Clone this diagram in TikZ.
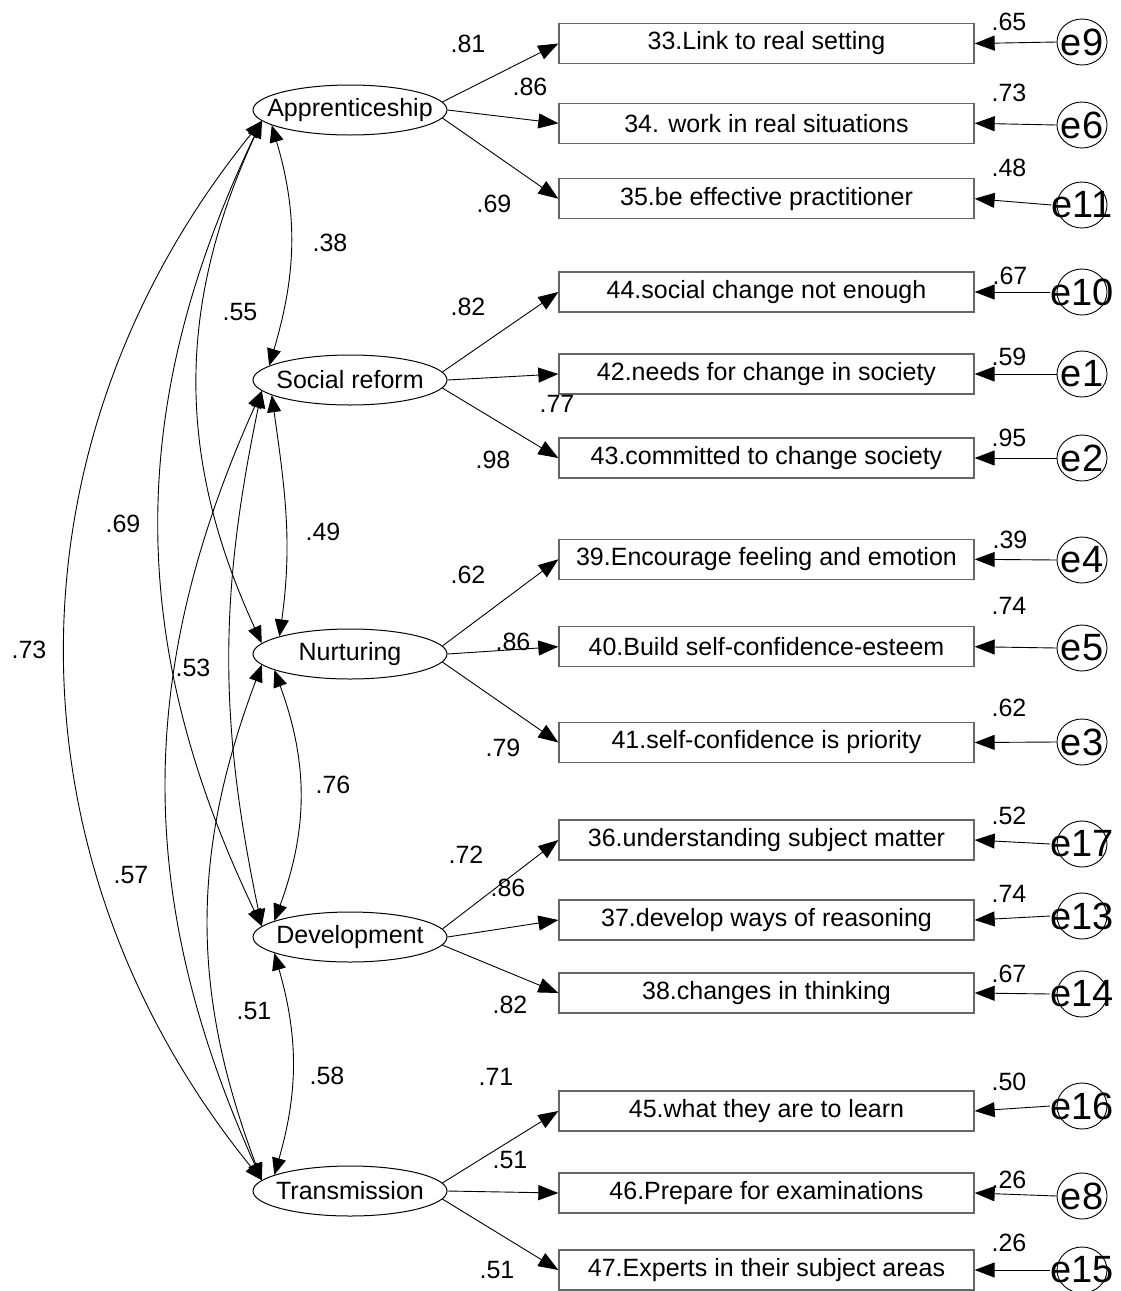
\documentclass[tikz,border=0pt]{standalone}
\usepackage{fontspec}
\setmainfont{Liberation Sans}
\usetikzlibrary{arrows.meta,shapes.geometric,calc}

\begin{document}
\begin{tikzpicture}[x=1pt,y=1pt,
  latent/.style={ellipse,draw,line width=1pt,minimum width=194pt,minimum height=50pt,
    inner sep=0pt,font=\fontsize{25}{30}\selectfont},
  item/.style={rectangle,draw=black!60,line width=1.3pt,minimum width=415pt,
    minimum height=40pt,inner sep=0pt,font=\fontsize{25}{30}\selectfont},
  err/.style={ellipse,draw,line width=0.9pt,minimum width=50pt,minimum height=46pt,inner sep=0pt},
  errtxt/.style={inner sep=0pt,font=\fontsize{38}{44}\selectfont},
  num/.style={inner sep=0pt,font=\fontsize{25}{30}\selectfont},
  load/.style={-{Triangle[length=20pt,width=15pt]},line width=0.9pt},
  corr/.style={{Triangle[length=17pt,width=14pt]}-{Triangle[length=17pt,width=14pt]},line width=0.9pt},
]
\useasboundingbox (0,0) rectangle (1121,-1291);

% latent factors (text boxed to zero width so the ellipse keeps its size)
\node[latent] (ap)  at (350,-110)  {\makebox[0pt]{Apprenticeship}};
\node[latent] (sr)  at (350,-380)  {\makebox[0pt]{Social reform}};
\node[latent] (nu)  at (350,-654)  {\makebox[0pt]{Nurturing}};
\node[latent] (dev) at (350,-937)  {\makebox[0pt]{Development}};
\node[latent] (tr)  at (350,-1191) {\makebox[0pt]{Transmission}};

% observed items
\node[item] (b33) at (766.5,-43.5)  {33.Link to real setting};
\node[item] (b34) at (766.5,-123.3) {34. work in real situations};
\node[item] (b35) at (766.5,-198.7) {35.be effective practitioner};
\node[item] (b44) at (766.5,-292)   {44.social change not enough};
\node[item] (b42) at (766.5,-374)   {42.needs for change in society};
\node[item] (b43) at (766.5,-458)   {43.committed to change society};
\node[item] (b39) at (766.5,-559.3) {39.Encourage feeling and emotion};
\node[item] (b40) at (766.5,-646.7) {40.Build self-confidence-esteem};
\node[item] (b41) at (766.5,-742.5) {41.self-confidence is priority};
\node[item] (b36) at (766.5,-840)   {36.understanding subject matter};
\node[item] (b37) at (766.5,-920)   {37.develop ways of reasoning};
\node[item] (b38) at (766.5,-993)   {38.changes in thinking};
\node[item] (b45) at (766.5,-1111)  {45.what they are to learn};
\node[item] (b46) at (766.5,-1193)  {46.Prepare for examinations};
\node[item] (b47) at (766.5,-1270)  {47.Experts in their subject areas};

% error terms: circle plus label
\foreach \n/\y in {9/-42,6/-125,11/-205,10/-292,1/-374,2/-458,4/-560,5/-648,3/-742,
                   17/-844,13/-916,14/-994,16/-1106,8/-1196,15/-1270}{
  \node[err] (c\n) at (1082,\y) {};
  \node[errtxt] (t\n) at (1082,\y) {e\n};
}

% loadings
\draw[load] (ap.5)  -- (b33.west);
\draw[load] (ap.0)  -- (b34.west);
\draw[load] (ap.-5) -- (b35.west);
\draw[load] (sr.5)  -- (b44.west);
\draw[load] (sr.0)  -- (b42.west);
\draw[load] (sr.-5) -- (b43.west);
\draw[load] (nu.5)  -- (b39.west);
\draw[load] (nu.0)  -- (b40.west);
\draw[load] (nu.-5) -- (b41.west);
\draw[load] (dev.5)  -- (b36.west);
\draw[load] (dev.0)  -- (b37.west);
\draw[load] (dev.-5) -- (b38.west);
\draw[load] (tr.5)  -- (b45.west);
\draw[load] (tr.0)  -- (b46.west);
\draw[load] (tr.-5) -- (b47.west);

% error paths
\draw[load] (c9.west)  -- (b33.east);
\draw[load] (c6.west)  -- (b34.east);
\draw[load] (t11.west) -- (b35.east);
\draw[load] (t10.west) -- (b44.east);
\draw[load] (c1.west)  -- (b42.east);
\draw[load] (c2.west)  -- (b43.east);
\draw[load] (c4.west)  -- (b39.east);
\draw[load] (c5.west)  -- (b40.east);
\draw[load] (c3.west)  -- (b41.east);
\draw[load] (t17.west) -- (b36.east);
\draw[load] (t13.west) -- (b37.east);
\draw[load] (t14.west) -- (b38.east);
\draw[load] (t16.west) -- (b45.east);
\draw[load] (c8.west)  -- (b46.east);
\draw[load] (t15.west) -- (b47.east);

% factor covariances (arcs on the left side)
\draw[corr] (ap.191) .. controls ($(ap.191)+(26.8,-90.4)$) and ($(sr.170)+(26.8,90.4)$) .. (sr.170);
\draw[corr] (ap.187) .. controls ($(ap.187)+(-85.5,-185.9)$) and ($(nu.173)+(-85.5,185.9)$) .. (nu.173);
\draw[corr] (ap.187) .. controls ($(ap.187)+(-136.3,-284.5)$) and ($(dev.173)+(-136.3,284.5)$) .. (dev.173);
\draw[corr] (ap.187) .. controls ($(ap.187)+(-261,-322)$) and ($(tr.173)+(-261,322)$) .. (tr.173);
\draw[corr] (sr.191) .. controls ($(sr.191)+(13.2,-93.7)$) and ($(nu.166)+(13.2,93.7)$) .. (nu.166);
\draw[corr] (sr.187) .. controls ($(sr.187)+(-42.9,-205.2)$) and ($(dev.173)+(-42.9,205.2)$) .. (dev.173);
\draw[corr] (sr.187) .. controls ($(sr.187)+(-126.7,-281.9)$) and ($(tr.173)+(-126.7,281.9)$) .. (tr.173);
\draw[corr] (nu.192) .. controls ($(nu.192)+(33.9,-92.2)$) and ($(dev.168)+(33.9,92.2)$) .. (dev.168);
\draw[corr] (nu.187) .. controls ($(nu.187)+(-71,-188.9)$) and ($(tr.173)+(-71,188.9)$) .. (tr.173);
\draw[corr] (dev.192) .. controls ($(dev.192)+(24,-83.6)$) and ($(tr.168)+(24,83.6)$) .. (tr.168);

% loading estimates
\node[num] (l33) at (468,-44)   {.81};
\node[num] (l34) at (530,-87)   {.86};
\node[num] (l35) at (494,-204)  {.69};
\node[num] (l44) at (468,-307)  {.82};
\node[num] (l42) at (557,-404)  {.77};
\node[num] (l43) at (493,-460)  {.98};
\node[num] (l39) at (468,-575)  {.62};
\node[num] (l40) at (513,-642)  {.86};
\node[num] (l41) at (503,-748)  {.79};
\node[num] (l36) at (466,-855)  {.72};
\node[num] (l37) at (508,-888)  {.86};
\node[num] (l38) at (510,-1005) {.82};
\node[num] (l45) at (496,-1077) {.71};
\node[num] (l46) at (510,-1160) {.51};
\node[num] (l47) at (497,-1270) {.51};

% squared multiple correlations
\node[num] (r33) at (1009,-22)   {.65};
\node[num] (r34) at (1009,-93)   {.73};
\node[num] (r35) at (1009,-168)  {.48};
\node[num] (r44) at (1010,-276)  {.67};
\node[num] (r42) at (1009,-357)  {.59};
\node[num] (r43) at (1009,-438)  {.95};
\node[num] (r39) at (1010,-540)  {.39};
\node[num] (r40) at (1009,-606)  {.74};
\node[num] (r41) at (1009,-708)  {.62};
\node[num] (r36) at (1009,-816)  {.52};
\node[num] (r37) at (1009,-894)  {.74};
\node[num] (r38) at (1009,-974)  {.67};
\node[num] (r45) at (1009,-1082) {.50};
\node[num] (r46) at (1009,-1180) {.26};
\node[num] (r47) at (1009,-1243) {.26};

% covariance estimates
\node[num] (k1)  at (330,-243)  {.38};
\node[num] (k2)  at (240,-312)  {.55};
\node[num] (k3)  at (123,-524)  {.69};
\node[num] (k4)  at (29,-650)   {.73};
\node[num] (k5)  at (323,-532)  {.49};
\node[num] (k6)  at (193,-668)  {.53};
\node[num] (k7)  at (131,-875)  {.57};
\node[num] (k8)  at (333,-785)  {.76};
\node[num] (k9)  at (254,-1011) {.51};
\node[num] (k10) at (327,-1076) {.58};
\end{tikzpicture}
\end{document}
